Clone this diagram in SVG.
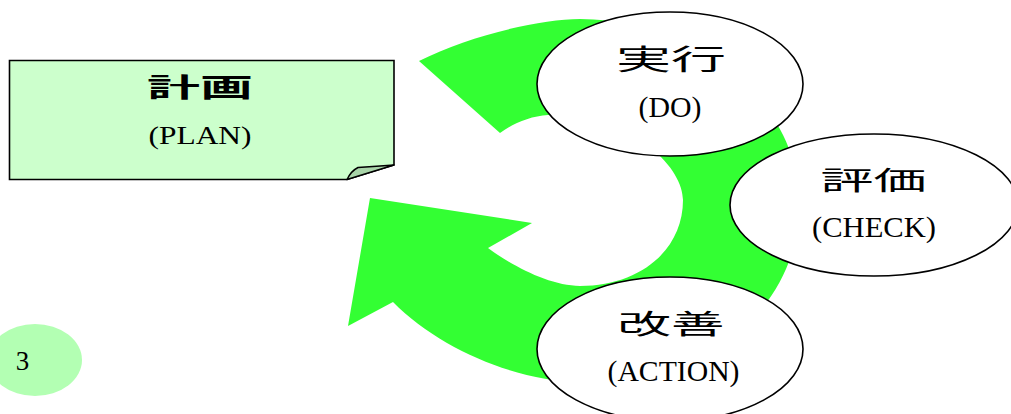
<svg xmlns="http://www.w3.org/2000/svg" width="1011" height="414" viewBox="0 0 1011 414">
<style>
.node{fill:#ffffff;stroke:#000000;stroke-width:1.6}
.jp{font-family:"Noto Sans CJK JP","Noto Sans CJK SC",sans-serif;fill:#000000;text-anchor:middle}
.lat{font-family:"Liberation Serif","Times New Roman",serif;fill:#000000;text-anchor:middle}
.ring{fill:#33ff33;stroke:none}
</style>
<g id="connectors">
<path class="ring" d="M419,61 C468,36 540,19 580,19 C690,19 795,95 800,200 C800,300 720,382 580,382 C520,382 440,350 393,302 L348,326 L370,198 L532,223 L488,248 C512,266 550,286 580,286 C640,286 683,250 683,200 C683,170 640,118 548,115 C530,116 512,124 500,133 Z"/>
</g>
<g id="plan">
<path d="M9.5,60.5 H394 V165 L347,179.5 H9.5 Z" fill="#ccffcc" stroke="#000000" stroke-width="1.6"/>
<path d="M347,179.5 Q351,171 358,167.5 Q377,166 394,165 Z" fill="#a8d4a8" stroke="#000000" stroke-width="1.4" stroke-linejoin="round"/>
<text class="jp" x="200" y="97" font-size="26" font-weight="bold" textLength="106" lengthAdjust="spacingAndGlyphs">計画</text>
<text class="lat" x="200" y="144" font-size="25.5" textLength="103" lengthAdjust="spacingAndGlyphs">(PLAN)</text>
</g>
<g id="do">
<ellipse class="node" cx="670" cy="84" rx="133" ry="72"/>
<text class="jp" x="671" y="70" font-size="28" textLength="110" lengthAdjust="spacingAndGlyphs">実行</text>
<text class="lat" x="670" y="117" font-size="28.5" textLength="63" lengthAdjust="spacingAndGlyphs">(DO)</text>
</g>
<g id="check">
<ellipse class="node" cx="874" cy="205" rx="144" ry="71"/>
<text class="jp" x="873.5" y="190" font-size="26.5" textLength="106" lengthAdjust="spacingAndGlyphs">評価</text>
<text class="lat" x="874" y="236.5" font-size="29" textLength="124" lengthAdjust="spacingAndGlyphs">(CHECK)</text>
</g>
<g id="action">
<ellipse class="node" cx="670" cy="349" rx="133" ry="72"/>
<text class="jp" x="671" y="334" font-size="27" textLength="107" lengthAdjust="spacingAndGlyphs">改善</text>
<text class="lat" x="673.5" y="380.5" font-size="29" textLength="132" lengthAdjust="spacingAndGlyphs">(ACTION)</text>
</g>
<g id="page">
<ellipse cx="35" cy="360" rx="47" ry="36" fill="#b3ffb3"/>
<text class="lat" x="22.5" y="370" font-size="27">3</text>
</g>
</svg>
